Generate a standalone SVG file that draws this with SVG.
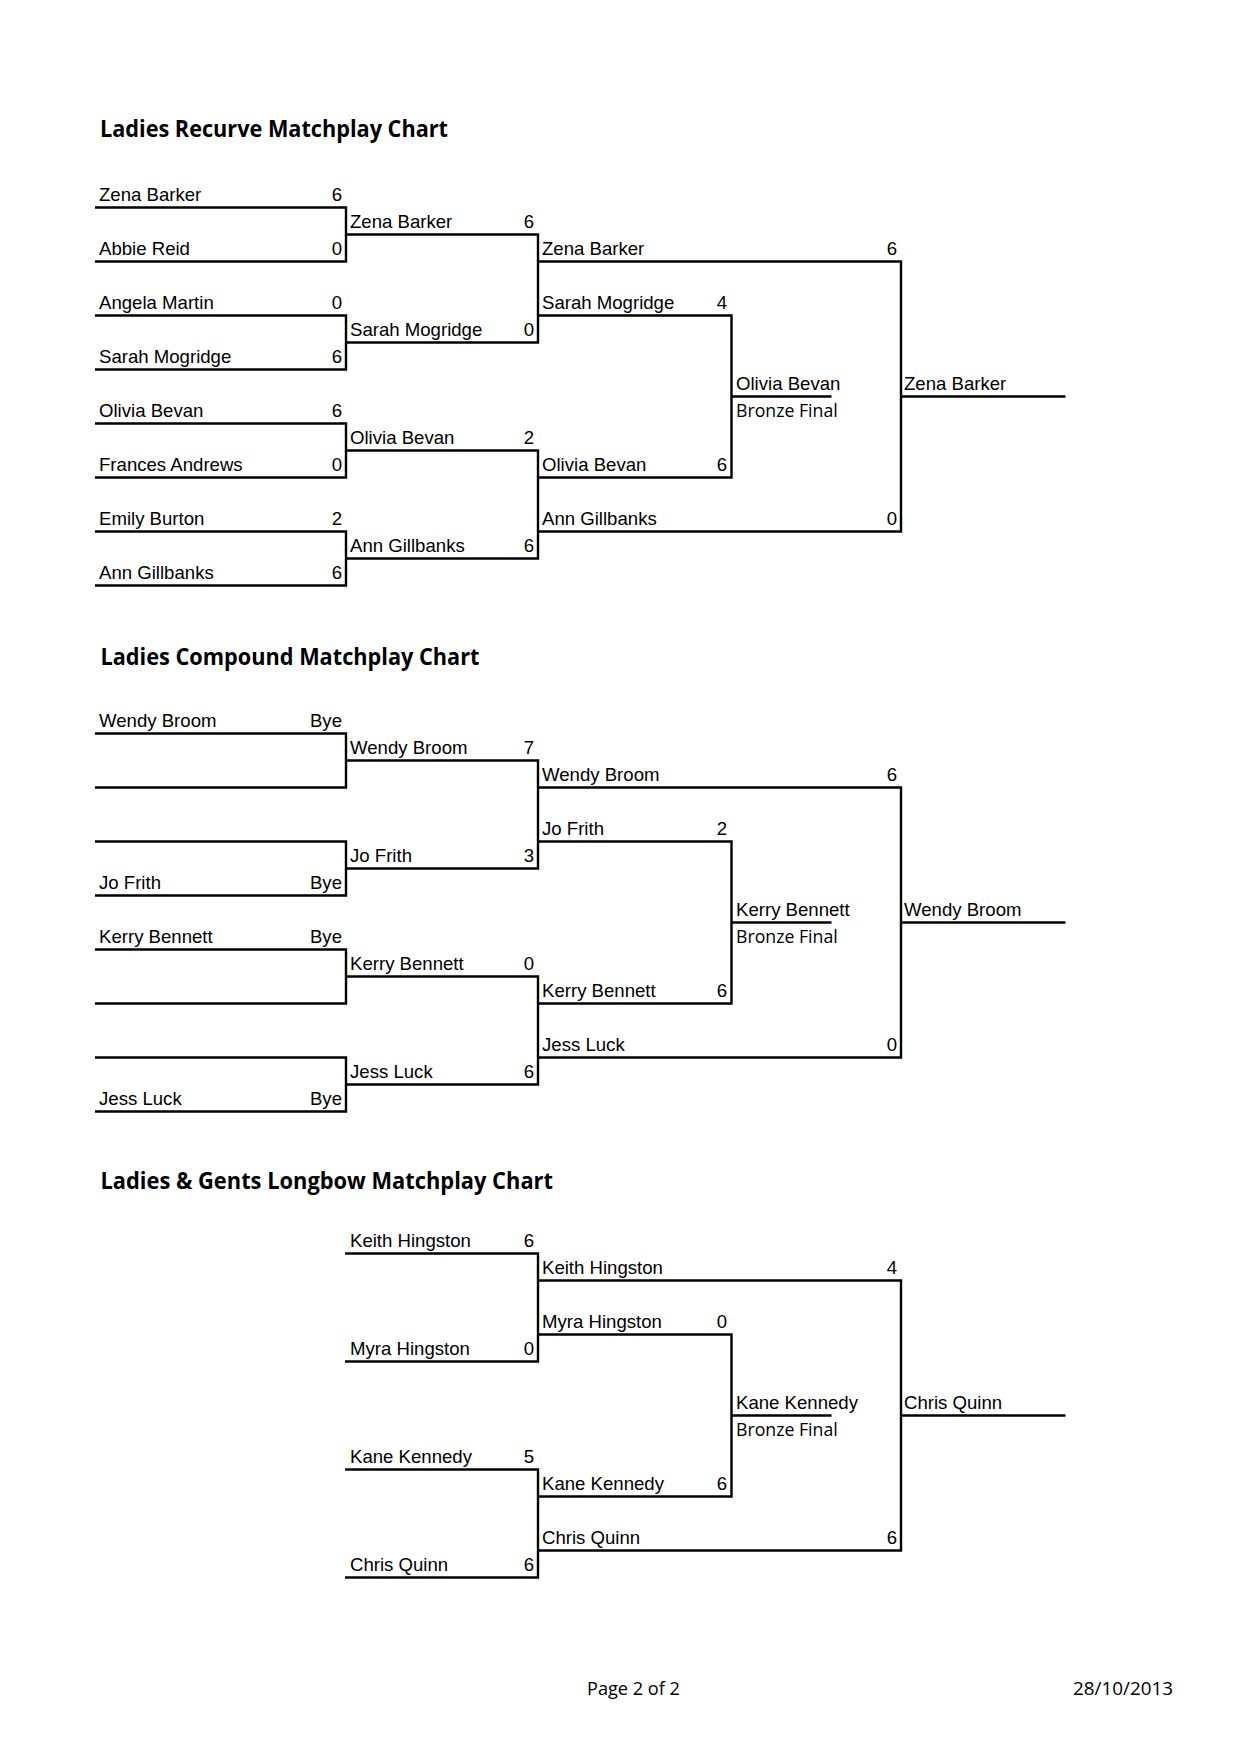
<svg xmlns="http://www.w3.org/2000/svg" width="1240" height="1754" viewBox="0 0 1240 1754">
<style>
.n{font-family:"Liberation Sans",Arial,sans-serif;font-size:18.6px;fill:#000}
.s{font-family:"Liberation Sans",Arial,sans-serif;font-size:18.6px;fill:#000;text-anchor:end}
.t{font-family:"Open Sans","Noto Sans",sans-serif;font-weight:bold;font-size:24px;fill:#000}
.bf{font-family:"Open Sans","Noto Sans",sans-serif;font-size:17.5px;fill:#000}
.ft{font-family:"Open Sans","Noto Sans",sans-serif;font-size:18px;fill:#000}
.c{fill:none;stroke:#000;stroke-width:2.4;stroke-linejoin:miter;stroke-linecap:butt}
</style>
<rect width="1240" height="1754" fill="#fff"/>

<!-- Titles -->
<text id="title-recurve" class="t" x="100" y="137.3" textLength="348" lengthAdjust="spacingAndGlyphs">Ladies Recurve Matchplay Chart</text>
<text id="title-compound" class="t" x="100.5" y="665" textLength="379" lengthAdjust="spacingAndGlyphs">Ladies Compound Matchplay Chart</text>
<text id="title-longbow" class="t" x="100.5" y="1189.3" textLength="452.5" lengthAdjust="spacingAndGlyphs">Ladies &amp; Gents Longbow Matchplay Chart</text>

<!-- Connectors -->
<g id="connectors" class="c">
  <!-- Recurve -->
  <path d="M95 207.5H346V261.5H95"/>
  <path d="M95 315.5H346V369.5H95"/>
  <path d="M95 423.5H346V477.5H95"/>
  <path d="M95 531.5H346V585.5H95"/>
  <path d="M346 234.5H538V342.5H346"/>
  <path d="M346 450.5H538V558.5H346"/>
  <path d="M538 315.5H731.5V477.5H538"/>
  <path d="M538 261.5H901V531.5H538"/>
  <path d="M731.5 396.5H831.5"/>
  <path d="M901 396.5H1065.5"/>
  <!-- Compound -->
  <path d="M95 733.5H346V787.5H95"/>
  <path d="M95 841.5H346V895.5H95"/>
  <path d="M95 949.5H346V1003.5H95"/>
  <path d="M95 1057.5H346V1111.5H95"/>
  <path d="M346 760.5H538V868.5H346"/>
  <path d="M346 976.5H538V1084.5H346"/>
  <path d="M538 841.5H731.5V1003.5H538"/>
  <path d="M538 787.5H901V1057.5H538"/>
  <path d="M731.5 922.5H831.5"/>
  <path d="M901 922.5H1065.5"/>
  <!-- Longbow -->
  <path d="M345 1253.5H538V1361.5H345"/>
  <path d="M345 1469.5H538V1577.5H345"/>
  <path d="M538 1334.5H731.5V1496.5H538"/>
  <path d="M538 1280.5H901V1550.5H538"/>
  <path d="M731.5 1415.5H831.5"/>
  <path d="M901 1415.5H1065.5"/>
</g>

<!-- Recurve nodes -->
<g id="rc-r1-1"><text class="n" x="99" y="201.2">Zena Barker</text><text class="s" x="342" y="201.2">6</text></g>
<g id="rc-r1-2"><text class="n" x="99" y="255.2">Abbie Reid</text><text class="s" x="342" y="255.2">0</text></g>
<g id="rc-r1-3"><text class="n" x="99" y="309.2">Angela Martin</text><text class="s" x="342" y="309.2">0</text></g>
<g id="rc-r1-4"><text class="n" x="99" y="363.2">Sarah Mogridge</text><text class="s" x="342" y="363.2">6</text></g>
<g id="rc-r1-5"><text class="n" x="99" y="417.2">Olivia Bevan</text><text class="s" x="342" y="417.2">6</text></g>
<g id="rc-r1-6"><text class="n" x="99" y="471.2">Frances Andrews</text><text class="s" x="342" y="471.2">0</text></g>
<g id="rc-r1-7"><text class="n" x="99" y="525.2">Emily Burton</text><text class="s" x="342" y="525.2">2</text></g>
<g id="rc-r1-8"><text class="n" x="99" y="579.2">Ann Gillbanks</text><text class="s" x="342" y="579.2">6</text></g>
<g id="rc-r2-1"><text class="n" x="350" y="228.2">Zena Barker</text><text class="s" x="534" y="228.2">6</text></g>
<g id="rc-r2-2"><text class="n" x="350" y="336.2">Sarah Mogridge</text><text class="s" x="534" y="336.2">0</text></g>
<g id="rc-r2-3"><text class="n" x="350" y="444.2">Olivia Bevan</text><text class="s" x="534" y="444.2">2</text></g>
<g id="rc-r2-4"><text class="n" x="350" y="552.2">Ann Gillbanks</text><text class="s" x="534" y="552.2">6</text></g>
<g id="rc-r3-1"><text class="n" x="542" y="255.2">Zena Barker</text><text class="s" x="897" y="255.2">6</text></g>
<g id="rc-r3-2"><text class="n" x="542" y="309.2">Sarah Mogridge</text><text class="s" x="727" y="309.2">4</text></g>
<g id="rc-r3-3"><text class="n" x="542" y="471.2">Olivia Bevan</text><text class="s" x="727" y="471.2">6</text></g>
<g id="rc-r3-4"><text class="n" x="542" y="525.2">Ann Gillbanks</text><text class="s" x="897" y="525.2">0</text></g>
<g id="rc-bronze"><text class="n" x="736" y="390.2">Olivia Bevan</text><text class="bf" x="736" y="416.8" textLength="101.7" lengthAdjust="spacingAndGlyphs">Bronze Final</text></g>
<g id="rc-final"><text class="n" x="904" y="390.2">Zena Barker</text></g>

<!-- Compound nodes -->
<g id="cp-r1-1"><text class="n" x="99" y="727.2">Wendy Broom</text><text class="s" x="342" y="727.2">Bye</text></g>
<g id="cp-r1-4"><text class="n" x="99" y="889.2">Jo Frith</text><text class="s" x="342" y="889.2">Bye</text></g>
<g id="cp-r1-5"><text class="n" x="99" y="943.2">Kerry Bennett</text><text class="s" x="342" y="943.2">Bye</text></g>
<g id="cp-r1-8"><text class="n" x="99" y="1105.2">Jess Luck</text><text class="s" x="342" y="1105.2">Bye</text></g>
<g id="cp-r2-1"><text class="n" x="350" y="754.2">Wendy Broom</text><text class="s" x="534" y="754.2">7</text></g>
<g id="cp-r2-2"><text class="n" x="350" y="862.2">Jo Frith</text><text class="s" x="534" y="862.2">3</text></g>
<g id="cp-r2-3"><text class="n" x="350" y="970.2">Kerry Bennett</text><text class="s" x="534" y="970.2">0</text></g>
<g id="cp-r2-4"><text class="n" x="350" y="1078.2">Jess Luck</text><text class="s" x="534" y="1078.2">6</text></g>
<g id="cp-r3-1"><text class="n" x="542" y="781.2">Wendy Broom</text><text class="s" x="897" y="781.2">6</text></g>
<g id="cp-r3-2"><text class="n" x="542" y="835.2">Jo Frith</text><text class="s" x="727" y="835.2">2</text></g>
<g id="cp-r3-3"><text class="n" x="542" y="997.2">Kerry Bennett</text><text class="s" x="727" y="997.2">6</text></g>
<g id="cp-r3-4"><text class="n" x="542" y="1051.2">Jess Luck</text><text class="s" x="897" y="1051.2">0</text></g>
<g id="cp-bronze"><text class="n" x="736" y="916.2">Kerry Bennett</text><text class="bf" x="736" y="942.8" textLength="101.7" lengthAdjust="spacingAndGlyphs">Bronze Final</text></g>
<g id="cp-final"><text class="n" x="904" y="916.2">Wendy Broom</text></g>

<!-- Longbow nodes -->
<g id="lb-r1-1"><text class="n" x="350" y="1247.2">Keith Hingston</text><text class="s" x="534" y="1247.2">6</text></g>
<g id="lb-r1-2"><text class="n" x="350" y="1355.2">Myra Hingston</text><text class="s" x="534" y="1355.2">0</text></g>
<g id="lb-r1-3"><text class="n" x="350" y="1463.2">Kane Kennedy</text><text class="s" x="534" y="1463.2">5</text></g>
<g id="lb-r1-4"><text class="n" x="350" y="1571.2">Chris Quinn</text><text class="s" x="534" y="1571.2">6</text></g>
<g id="lb-r2-1"><text class="n" x="542" y="1274.2">Keith Hingston</text><text class="s" x="897" y="1274.2">4</text></g>
<g id="lb-r2-2"><text class="n" x="542" y="1328.2">Myra Hingston</text><text class="s" x="727" y="1328.2">0</text></g>
<g id="lb-r2-3"><text class="n" x="542" y="1490.2">Kane Kennedy</text><text class="s" x="727" y="1490.2">6</text></g>
<g id="lb-r2-4"><text class="n" x="542" y="1544.2">Chris Quinn</text><text class="s" x="897" y="1544.2">6</text></g>
<g id="lb-bronze"><text class="n" x="736" y="1409.2">Kane Kennedy</text><text class="bf" x="736" y="1435.8" textLength="101.7" lengthAdjust="spacingAndGlyphs">Bronze Final</text></g>
<g id="lb-final"><text class="n" x="904" y="1409.2">Chris Quinn</text></g>

<!-- Footer -->
<text id="footer-page" class="ft" x="587" y="1695" textLength="93" lengthAdjust="spacingAndGlyphs">Page 2 of 2</text>
<text id="footer-date" class="ft" x="1073" y="1695" textLength="100" lengthAdjust="spacingAndGlyphs">28/10/2013</text>
</svg>
